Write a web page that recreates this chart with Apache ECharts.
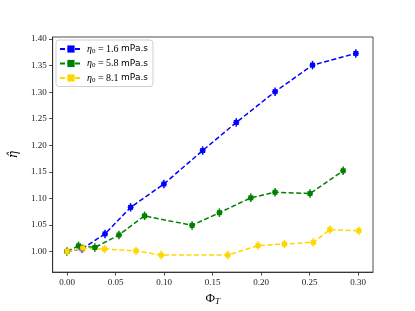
<!DOCTYPE html>
<html>
<head>
<meta charset="utf-8">
<script src="https://cdn.jsdelivr.net/npm/echarts@6/dist/echarts.min.js"></script>
<style>html,body{margin:0;padding:0;background:#fff}#c{width:415px;height:311px}</style>
</head>
<body>
<div id="c"></div>
<script>
// ---- data ----
var blueX = [0, 0.0155, 0.039, 0.0654, 0.0997, 0.1397, 0.1744, 0.2144, 0.253, 0.2977];
var blueY = [1.0, 1.005, 1.033, 1.083, 1.127, 1.190, 1.243, 1.301, 1.351, 1.373];
var blueErr = [0.008, 0.008, 0.008, 0.008, 0.008, 0.008, 0.008, 0.008, 0.008, 0.008];
var greenX = [0, 0.0117, 0.0285, 0.0534, 0.0798, 0.1288, 0.157, 0.1894, 0.2144, 0.2504, 0.2846];
var greenY = [1.0, 1.0105, 1.0074, 1.031, 1.067, 1.049, 1.073, 1.101, 1.1115, 1.109, 1.152];
var greenErr = [0.008, 0.008, 0.008, 0.008, 0.008, 0.008, 0.008, 0.008, 0.008, 0.008, 0.008];
var yellowX = [0, 0.016, 0.0385, 0.071, 0.097, 0.1656, 0.1968, 0.224, 0.2538, 0.2709, 0.3007];
var yellowY = [1.0, 1.006, 1.0044, 1.001, 0.993, 0.993, 1.011, 1.014, 1.017, 1.041, 1.039];
var yellowErr = [0.008, 0.008, 0.008, 0.008, 0.008, 0.008, 0.008, 0.008, 0.008, 0.008, 0.008];
var xErr = 0.003;
var seriesNames = ['eta0_1.6', 'eta0_5.8', 'eta0_8.1'];
var seriesLabels = ['1.6', '5.8', '8.1'];
var xTicks = [0, 0.05, 0.10, 0.15, 0.20, 0.25, 0.30];
var yTicks = [1.00, 1.05, 1.10, 1.15, 1.20, 1.25, 1.30, 1.35, 1.40];
var colors = ['#0000ff', '#008000', '#ffd700'];

function zip(xs, ys) { return xs.map(function (x, i) { return [x, ys[i]]; }); }
function errData(xs, ys, es) { return xs.map(function (x, i) { return [x, ys[i], es[i]]; }); }

function errSeries(data, color) {
  return {
    type: 'custom',
    data: data,
    z: 2,
    silent: true,
    renderItem: function (params, api) {
      var x = api.value(0), y = api.value(1), e = api.value(2);
      var top = api.coord([x, y + e]);
      var bot = api.coord([x, y - e]);
      var l = api.coord([x - xErr, y]);
      var r = api.coord([x + xErr, y]);
      var st = { stroke: color, lineWidth: 1.5 };
      return {
        type: 'group',
        children: [
          { type: 'line', shape: { x1: top[0], y1: top[1], x2: bot[0], y2: bot[1] }, style: st },
          { type: 'line', shape: { x1: l[0], y1: l[1], x2: r[0], y2: r[1] }, style: st }
        ]
      };
    }
  };
}

function lineSeries(name, data, color) {
  return {
    name: name,
    type: 'line',
    data: data,
    z: 3,
    symbol: 'rect',
    symbolSize: 5,
    showSymbol: true,
    itemStyle: { color: color },
    lineStyle: { color: color, width: 1.5, type: [5, 2.5] },
    emphasis: { disabled: true },
    animation: false
  };
}

var chart = echarts.init(document.getElementById('c'), null, { renderer: 'canvas' });
var serifFont = 'Liberation Serif, DejaVu Serif, serif';
chart.setOption({
  animation: false,
  backgroundColor: '#fff',
  grid: { left: 52, right: 42, top: 37, bottom: 34, show: true, borderColor: '#222', borderWidth: 0.8, backgroundColor: 'transparent' },
  legend: {
    data: seriesNames,
    orient: 'vertical',
    left: 56, top: 40,
    padding: [4, 5, 3, 3],
    itemGap: 4,
    itemWidth: 22, itemHeight: 9,
    borderColor: '#d0d0d0', borderWidth: 1, borderRadius: 3,
    backgroundColor: 'rgba(255,255,255,0.8)',
    formatter: function (name) {
      var i = seriesNames.indexOf(name);
      return '{e|η}{s|0}{m| = ' + seriesLabels[i] + ' }{u|mPa.s}';
    },
    textStyle: {
      rich: {
        e: { fontFamily: serifFont, fontStyle: 'italic', fontSize: 10, color: '#000' },
        s: { fontFamily: serifFont, fontSize: 7, color: '#000', verticalAlign: 'bottom', padding: [4, 0, 0, 0] },
        m: { fontFamily: serifFont, fontSize: 10, color: '#000' },
        u: { fontFamily: 'DejaVu Sans, sans-serif', fontSize: 9, color: '#000' }
      }
    }
  },
  xAxis: {
    type: 'value',
    min: -0.015, max: 0.3154,
    name: '{a|Φ}{b|T}',
    nameLocation: 'middle',
    nameGap: 18,
    nameTextStyle: {
      rich: {
        a: { fontFamily: serifFont, fontSize: 13, color: '#000' },
        b: { fontFamily: serifFont, fontStyle: 'italic', fontSize: 9, color: '#000', verticalAlign: 'bottom', padding: [6, 0, 0, 0] }
      }
    },
    axisLine: { show: true, onZero: false, lineStyle: { color: '#222', width: 0.8 } },
    axisTick: { show: true, inside: false, length: 3.5, customValues: xTicks, lineStyle: { color: '#222', width: 0.8 } },
    axisLabel: { customValues: xTicks, fontFamily: serifFont, fontSize: 9, color: '#222', margin: 6,
      formatter: function (v) { return v.toFixed(2); } },
    splitLine: { show: false }
  },
  yAxis: {
    type: 'value',
    min: 0.961, max: 1.404,
    name: 'η̂',
    nameLocation: 'middle',
    nameRotate: 90,
    nameGap: 30,
    nameTextStyle: { fontFamily: 'DejaVu Serif, serif', fontStyle: 'italic', fontSize: 12, color: '#000' },
    axisLine: { show: true, onZero: false, lineStyle: { color: '#222', width: 0.8 } },
    axisTick: { show: true, inside: false, length: 3.5, customValues: yTicks, lineStyle: { color: '#222', width: 0.8 } },
    axisLabel: { customValues: yTicks, fontFamily: serifFont, fontSize: 9, color: '#222', margin: 6,
      formatter: function (v) { return v.toFixed(2); } },
    splitLine: { show: false }
  },
  series: [
    lineSeries(seriesNames[0], zip(blueX, blueY), colors[0]),
    errSeries(errData(blueX, blueY, blueErr), colors[0]),
    lineSeries(seriesNames[1], zip(greenX, greenY), colors[1]),
    errSeries(errData(greenX, greenY, greenErr), colors[1]),
    lineSeries(seriesNames[2], zip(yellowX, yellowY), colors[2]),
    errSeries(errData(yellowX, yellowY, yellowErr), colors[2])
  ]
});
</script>
</body>
</html>
